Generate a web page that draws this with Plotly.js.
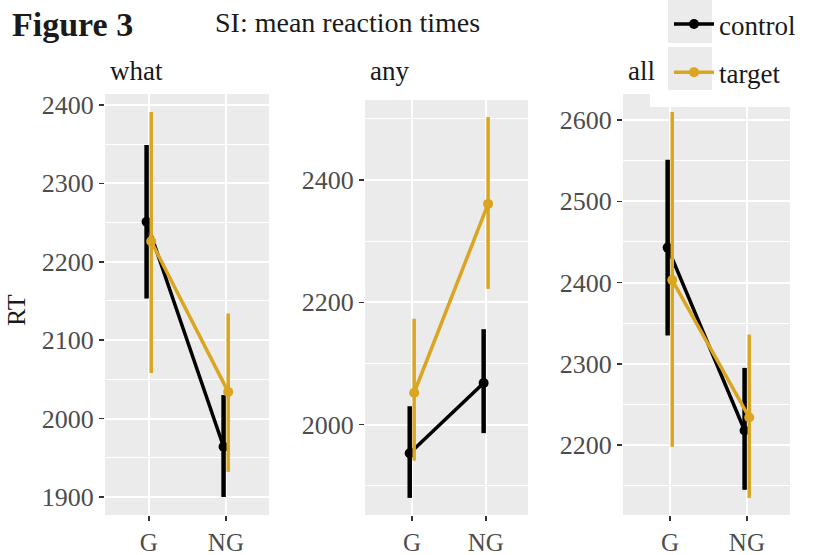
<!DOCTYPE html>
<html>
<head>
<meta charset="utf-8">
<script src="https://cdn.plot.ly/plotly-3.0.1.min.js"></script>
<style>
  html, body { margin: 0; padding: 0; background: #ffffff; }
  #chart { width: 813px; height: 555px; }
</style>
</head>
<body>
<div id="chart"></div>
<script>
// ---- data ----
const categories = ['G', 'NG'];
const panelNames = ['what', 'any', 'all'];
const groupNames = ['control', 'target'];

// panel "what"
const whatControl   = [2251, 1964];
const whatControlLo = [2153, 1900];
const whatControlHi = [2349, 2030];
const whatTarget    = [2226, 2034];
const whatTargetLo  = [2058, 1932];
const whatTargetHi  = [2391, 2134];

// panel "any"
const anyControl   = [1953, 2068];
const anyControlLo = [1880, 1986];
const anyControlHi = [2030, 2156];
const anyTarget    = [2052, 2361];
const anyTargetLo  = [1941, 2222];
const anyTargetHi  = [2173, 2503];

// panel "all"
const allControl   = [2443, 2218];
const allControlLo = [2335, 2145];
const allControlHi = [2551, 2295];
const allTarget    = [2403, 2234];
const allTargetLo  = [2198, 2135];
const allTargetHi  = [2610, 2336];

// y tick values per panel
const yTickVals = [
  [1900, 2000, 2100, 2200, 2300, 2400],
  [2000, 2200, 2400],
  [2200, 2300, 2400, 2500, 2600]
];

// ---- styling ----
const W = 813, H = 555;
const colors = { control: '#000000', target: '#DAA520' };
const dodge = { control: -0.03, target: 0.03 };
const FONT = 'Liberation Serif, Times New Roman, serif';
const px = v => v / W;
const py = v => 1 - v / H;

const panels = [
  { name: panelNames[0], ctrl: [whatControl, whatControlLo, whatControlHi], tgt: [whatTarget, whatTargetLo, whatTargetHi],
    xd: [105, 269], yd: [94, 515], xr: [0.43, 2.56], yr: [1877, 2414], minor: 50, ticks: yTickVals[0] },
  { name: panelNames[1], ctrl: [anyControl, anyControlLo, anyControlHi], tgt: [anyTarget, anyTargetLo, anyTargetHi],
    xd: [365, 528], yd: [100, 515], xr: [0.365, 2.57], yr: [1852, 2531], minor: 100, ticks: yTickVals[1] },
  { name: panelNames[2], ctrl: [allControl, allControlLo, allControlHi], tgt: [allTarget, allTargetLo, allTargetHi],
    xd: [623, 790], yd: [94, 515], xr: [0.39, 2.56], yr: [2114, 2632], minor: 50, ticks: yTickVals[2] }
];

const catPos = categories.map((c, i) => i + 1);
const traces = [];
const layout = {
  width: W, height: H,
  margin: { l: 0, r: 0, t: 0, b: 0 },
  paper_bgcolor: '#ffffff',
  plot_bgcolor: '#EBEBEB',
  font: { family: FONT, color: '#4D4D4D', size: 24 },
  showlegend: true,
  legend: {
    x: px(669), xanchor: 'left', y: py(0), yanchor: 'top',
    bgcolor: 'rgba(0,0,0,0)', borderwidth: 0,
    font: { family: FONT, size: 27, color: '#1A1A1A' },
    tracegroupgap: 10, itemwidth: 40
  },
  annotations: [],
  shapes: []
};

panels.forEach((p, k) => {
  const n = k + 1;
  const xa = 'x' + (n === 1 ? '' : n), ya = 'y' + (n === 1 ? '' : n);
  [['control', p.ctrl], ['target', p.tgt]].forEach(([g, d]) => {
    const [mean, lo, hi] = d;
    traces.push({
      type: 'scatter', mode: 'lines+markers',
      name: g, legendgroup: g, showlegend: k === 0,
      x: catPos.map(v => v + dodge[g]), y: mean,
      xaxis: xa, yaxis: ya,
      line: { color: colors[g], width: 3.5 },
      marker: { color: colors[g], size: 10 },
      error_y: {
        type: 'data', symmetric: false,
        array: mean.map((m, i) => hi[i] - m),
        arrayminus: mean.map((m, i) => m - lo[i]),
        color: colors[g], thickness: g === 'control' ? 4.5 : 3.5, width: 0
      }
    });
  });
  layout['xaxis' + (n === 1 ? '' : n)] = {
    domain: [px(p.xd[0]), px(p.xd[1])], range: p.xr, anchor: ya,
    tickvals: catPos, ticktext: categories,
    showgrid: true, gridcolor: '#ffffff', gridwidth: 2, zeroline: false,
    ticks: 'outside', ticklen: 5, tickwidth: 1.5, tickcolor: '#333333',
    tickfont: { family: FONT, size: 25, color: '#4D4D4D' },
    showline: false, fixedrange: true
  };
  layout['yaxis' + (n === 1 ? '' : n)] = {
    domain: [py(p.yd[1]), py(p.yd[0])], range: p.yr, anchor: xa,
    tickvals: p.ticks, tickmode: 'array',
    showgrid: true, gridcolor: '#ffffff', gridwidth: 2, zeroline: false,
    minor: { dtick: p.minor, tick0: p.ticks[0], showgrid: true, gridcolor: '#ffffff', gridwidth: 1, ticks: '' },
    ticks: 'outside', ticklen: 5, tickwidth: 1.5, tickcolor: '#333333',
    tickfont: { family: FONT, size: 26, color: '#4D4D4D' },
    showline: false, fixedrange: true
  };
  layout.annotations.push({
    xref: 'paper', yref: 'paper', x: px(p.xd[0] + 3), y: py(71),
    xanchor: 'left', yanchor: 'middle', showarrow: false,
    text: p.name, font: { family: FONT, size: 27, color: '#1A1A1A' }
  });
});

// figure titles and y-axis title
layout.annotations.push(
  { xref: 'paper', yref: 'paper', x: px(10), y: py(25), xanchor: 'left', yanchor: 'middle', showarrow: false,
    text: '<b>Figure 3</b>', font: { family: FONT, size: 34, color: '#1A1A1A' } },
  { xref: 'paper', yref: 'paper', x: px(213), y: py(22), xanchor: 'left', yanchor: 'middle', showarrow: false,
    text: 'SI: mean reaction times', font: { family: FONT, size: 28, color: '#1A1A1A' } },
  { xref: 'paper', yref: 'paper', x: px(16), y: py(310), xanchor: 'center', yanchor: 'middle', showarrow: false,
    textangle: -90, text: 'RT', font: { family: FONT, size: 26, color: '#1A1A1A' } }
);

// legend box background and key backgrounds
layout.shapes.push(
  { type: 'rect', xref: 'paper', yref: 'paper', layer: 'above', x0: px(650), x1: px(813), y0: py(107), y1: py(0),
    fillcolor: '#ffffff', line: { width: 0 } },
  { type: 'rect', xref: 'paper', yref: 'paper', layer: 'above', x0: px(668), x1: px(712), y0: py(43), y1: py(0),
    fillcolor: '#EBEBEB', line: { width: 0 } },
  { type: 'rect', xref: 'paper', yref: 'paper', layer: 'above', x0: px(668), x1: px(712), y0: py(90), y1: py(47),
    fillcolor: '#EBEBEB', line: { width: 0 } }
);

Plotly.newPlot('chart', traces, layout, { staticPlot: true, displayModeBar: false });
</script>
</body>
</html>
